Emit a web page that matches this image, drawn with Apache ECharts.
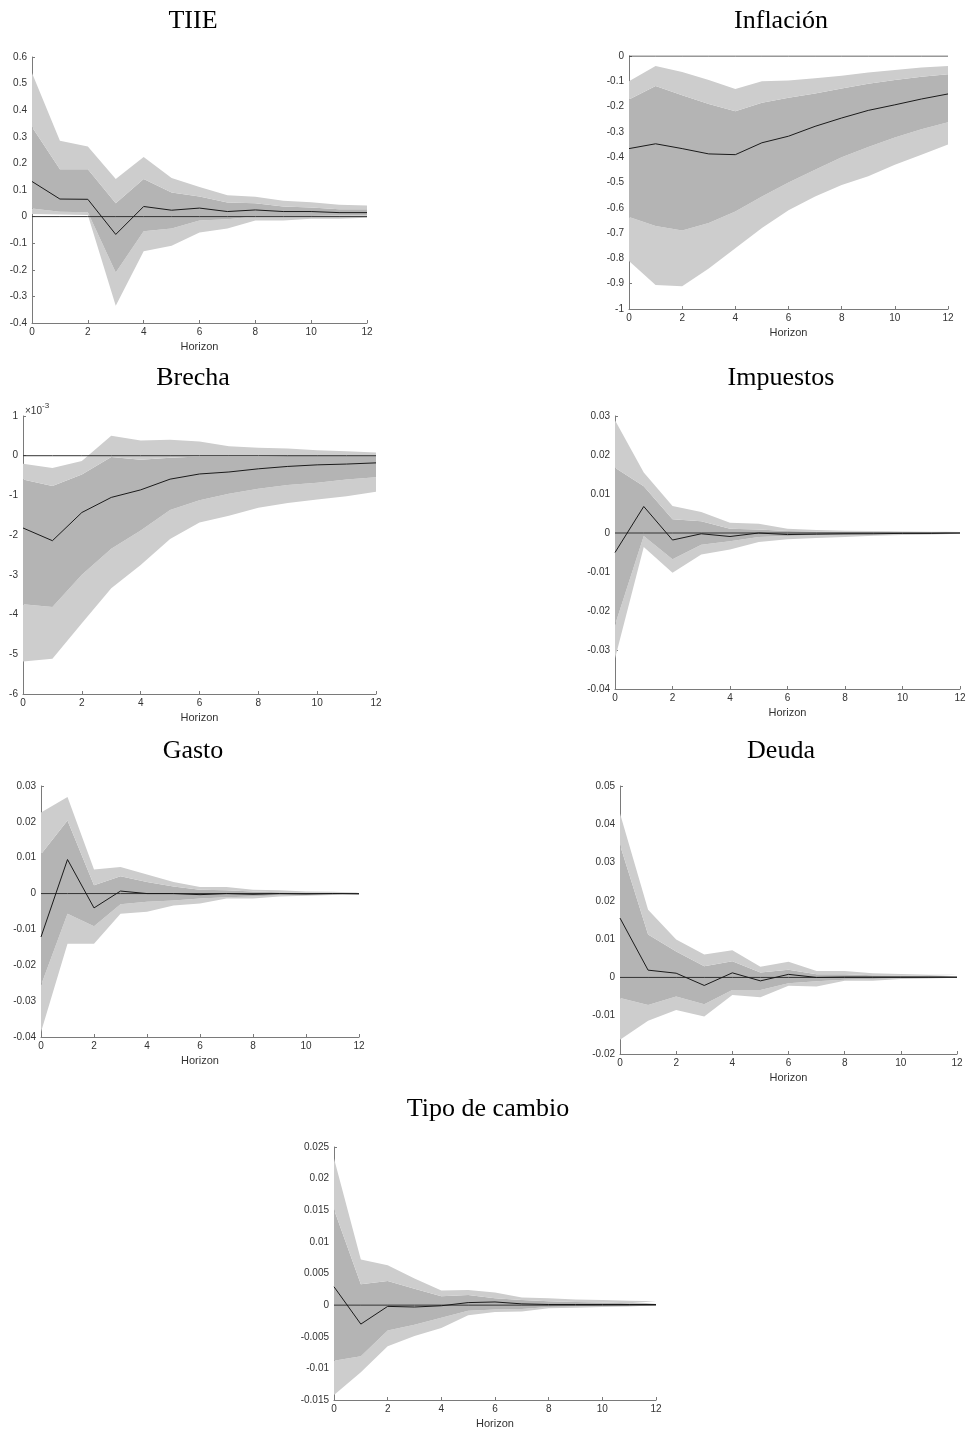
<!DOCTYPE html>
<html>
<head>
<meta charset="utf-8">
<script src="https://cdn.jsdelivr.net/npm/echarts@6/dist/echarts.min.js"></script>
<style>
html, body { margin: 0; padding: 0; background: #fff; }
#main { width: 969px; height: 1433px; }
</style>
</head>
<body>
<div id="main"></div>
<script>
var horizon = ['0', '1', '2', '3', '4', '5', '6', '7', '8', '9', '10', '11', '12'];

// TIIE
var tiieMed     = [0.132, 0.066, 0.065, -0.067, 0.038, 0.024, 0.032, 0.019, 0.025, 0.019, 0.019, 0.015, 0.015];
var tiieOuterHi = [0.54, 0.285, 0.264, 0.141, 0.224, 0.145, 0.111, 0.08, 0.075, 0.06, 0.054, 0.045, 0.042];
var tiieInnerHi = [0.337, 0.178, 0.178, 0.05, 0.141, 0.091, 0.076, 0.053, 0.05, 0.038, 0.034, 0.028, 0.028];
var tiieInnerLo = [0.03, 0.018, 0.016, -0.21, -0.055, -0.045, -0.015, -0.01, 0.0, 0.0, 0.002, 0.004, 0.005];
var tiieOuterLo = [0.01, 0.008, 0.006, -0.335, -0.13, -0.11, -0.06, -0.045, -0.015, -0.015, -0.008, -0.008, -0.004];

// Inflación
var inflMed     = [-0.366, -0.347, -0.366, -0.387, -0.39, -0.343, -0.317, -0.278, -0.245, -0.215, -0.193, -0.17, -0.15];
var inflOuterHi = [-0.1, -0.04, -0.063, -0.095, -0.13, -0.1, -0.097, -0.088, -0.078, -0.065, -0.055, -0.045, -0.04];
var inflInnerHi = [-0.172, -0.119, -0.155, -0.19, -0.218, -0.185, -0.165, -0.148, -0.128, -0.11, -0.095, -0.082, -0.072];
var inflInnerLo = [-0.636, -0.672, -0.69, -0.66, -0.615, -0.555, -0.5, -0.45, -0.4, -0.36, -0.322, -0.29, -0.262];
var inflOuterLo = [-0.81, -0.905, -0.91, -0.84, -0.76, -0.68, -0.61, -0.555, -0.51, -0.475, -0.43, -0.39, -0.35];

// Brecha
var brechaMed     = [-0.00182, -0.00214, -0.00143, -0.00105, -0.00086, -0.00059, -0.00046, -0.00041, -0.00033, -0.00027, -0.00023, -0.00021, -0.00018];
var brechaOuterHi = [-0.0002, -0.00031, -0.00013, 0.0005, 0.00038, 0.0004, 0.00036, 0.00024, 0.0002, 0.00018, 0.00014, 0.00011, 0.00008];
var brechaInnerHi = [-0.0006, -0.00076, -0.00047, -0.00003, -0.0001, -0.00005, -0.00002, -0.00002, -0.00002, -0.00001, -0.00001, -0.00001, -0.00001];
var brechaInnerLo = [-0.00374, -0.00381, -0.003, -0.00234, -0.00188, -0.00137, -0.00112, -0.00096, -0.00083, -0.00074, -0.00068, -0.0006, -0.00054];
var brechaOuterLo = [-0.00518, -0.00511, -0.00422, -0.00334, -0.00275, -0.0021, -0.00168, -0.00151, -0.00131, -0.00119, -0.0011, -0.00102, -0.00091];

// Impuestos
var impMed     = [-0.005, 0.0068, -0.0018, -0.0002, -0.0009, 0.0, -0.0004, -0.0003, -0.0002, -0.0002, -0.0001, -0.0001, 0.0];
var impOuterHi = [0.0289, 0.0155, 0.0069, 0.0054, 0.0026, 0.0024, 0.0011, 0.0008, 0.0006, 0.0005, 0.0004, 0.0003, 0.0003];
var impInnerHi = [0.0167, 0.012, 0.0035, 0.003, 0.0011, 0.0009, 0.0005, 0.0004, 0.0003, 0.0003, 0.0002, 0.0002, 0.0002];
var impInnerLo = [-0.0236, -0.0008, -0.0067, -0.003, -0.0021, -0.001, -0.0008, -0.0006, -0.0005, -0.0004, -0.0003, -0.0002, -0.0002];
var impOuterLo = [-0.0322, -0.0036, -0.0102, -0.0055, -0.0042, -0.0023, -0.0016, -0.0013, -0.001, -0.0007, -0.0005, -0.0004, -0.0003];

// Gasto
var gasMed     = [-0.0121, 0.0095, -0.004, 0.0007, 0.0, 0.0, -0.0003, 0.0, -0.0002, 0.0, -0.0001, 0.0, -0.0001];
var gasOuterHi = [0.0226, 0.0269, 0.0067, 0.0074, 0.0053, 0.0032, 0.0018, 0.0018, 0.0011, 0.0009, 0.0006, 0.0005, 0.0003];
var gasInnerHi = [0.011, 0.0204, 0.0023, 0.0048, 0.0032, 0.002, 0.0011, 0.0009, 0.0006, 0.0004, 0.0003, 0.0002, 0.0002];
var gasInnerLo = [-0.0256, -0.0056, -0.0091, -0.003, -0.0023, -0.0019, -0.0014, -0.001, -0.0008, -0.0005, -0.0004, -0.0003, -0.0002];
var gasOuterLo = [-0.0386, -0.014, -0.014, -0.0056, -0.0051, -0.0033, -0.0028, -0.0014, -0.0014, -0.0008, -0.0006, -0.0004, -0.0003];

// Deuda
var deuMed     = [0.0155, 0.0019, 0.0011, -0.0021, 0.0012, -0.0009, 0.0008, 0.0, 0.0001, 0.0001, 0.0001, 0.0001, 0.0001];
var deuOuterHi = [0.0428, 0.0177, 0.0099, 0.006, 0.0071, 0.0028, 0.0041, 0.0017, 0.0017, 0.0011, 0.0009, 0.0007, 0.0007];
var deuInnerHi = [0.0346, 0.0112, 0.0068, 0.0029, 0.0042, 0.0013, 0.002, 0.0008, 0.0008, 0.0006, 0.0005, 0.0004, 0.0004];
var deuInnerLo = [-0.0054, -0.0072, -0.005, -0.007, -0.0033, -0.0033, -0.0015, -0.001, -0.0006, -0.0004, -0.0002, -0.0001, -0.0001];
var deuOuterLo = [-0.0163, -0.0113, -0.0085, -0.0102, -0.0046, -0.0052, -0.0022, -0.0024, -0.0009, -0.0009, -0.0004, -0.0003, -0.0003];

// Tipo de cambio
var tcMed     = [0.0029, -0.003, -0.0002, -0.0003, -0.0001, 0.0004, 0.0005, 0.0002, 0.0001, 0.0001, 0.0001, 0.0001, 0.0001];
var tcOuterHi = [0.0232, 0.0072, 0.0063, 0.0042, 0.0023, 0.0024, 0.002, 0.0012, 0.0011, 0.0009, 0.0008, 0.0007, 0.0006];
var tcInnerHi = [0.0151, 0.0033, 0.0038, 0.0026, 0.0014, 0.0016, 0.0011, 0.0008, 0.0006, 0.0005, 0.0004, 0.0003, 0.0003];
var tcInnerLo = [-0.0088, -0.0081, -0.004, -0.0031, -0.002, -0.0009, -0.0007, -0.0006, -0.0003, -0.0002, -0.0001, 0.0, 0.0];
var tcOuterLo = [-0.0142, -0.0106, -0.0065, -0.0049, -0.0036, -0.0016, -0.0011, -0.001, -0.0005, -0.0004, -0.0003, -0.0002, -0.0002];

var titles = ['TIIE', 'Inflación', 'Brecha', 'Impuestos', 'Gasto', 'Deuda', 'Tipo de cambio'];
var yMin = [-0.4, -1, -0.006, -0.04, -0.04, -0.02, -0.015];
var yMax = [0.6, 0, 0.001, 0.03, 0.03, 0.05, 0.025];
var yStep = [0.1, 0.1, 0.001, 0.01, 0.01, 0.01, 0.005];

var panels = [
    { med: tiieMed, oh: tiieOuterHi, ih: tiieInnerHi, il: tiieInnerLo, ol: tiieOuterLo,
      grid: { left: 32, width: 335, top: 57, height: 266 }, title: [193, 8] },
    { med: inflMed, oh: inflOuterHi, ih: inflInnerHi, il: inflInnerLo, ol: inflOuterLo,
      grid: { left: 629, width: 319, top: 56, height: 253 }, title: [781, 8] },
    { med: brechaMed, oh: brechaOuterHi, ih: brechaInnerHi, il: brechaInnerLo, ol: brechaOuterLo,
      grid: { left: 23, width: 353, top: 416, height: 278 }, title: [193, 365], scale: 1000 },
    { med: impMed, oh: impOuterHi, ih: impInnerHi, il: impInnerLo, ol: impOuterLo,
      grid: { left: 615, width: 345, top: 416, height: 273 }, title: [781, 365] },
    { med: gasMed, oh: gasOuterHi, ih: gasInnerHi, il: gasInnerLo, ol: gasOuterLo,
      grid: { left: 41, width: 318, top: 786, height: 251 }, title: [193, 738] },
    { med: deuMed, oh: deuOuterHi, ih: deuInnerHi, il: deuInnerLo, ol: deuOuterLo,
      grid: { left: 620, width: 337, top: 786, height: 268 }, title: [781, 738] },
    { med: tcMed, oh: tcOuterHi, ih: tcInnerHi, il: tcInnerLo, ol: tcOuterLo,
      grid: { left: 334, width: 322, top: 1147, height: 253 }, title: [488, 1096] }
];

var dom = document.getElementById('main');
var myChart = echarts.init(dom);

function diff(a, b) {
    return a.map(function (v, i) { return v - b[i]; });
}
function fmt(v) {
    return String(parseFloat(v.toPrecision(6)));
}

var grids = [], xAxes = [], yAxes = [], series = [], graphics = [];

panels.forEach(function (p, k) {
    grids.push(p.grid);
    xAxes.push({
        gridIndex: k, type: 'category', data: horizon, boundaryGap: false,
        name: 'Horizon', nameLocation: 'middle', nameGap: 18,
        nameTextStyle: { fontFamily: 'Liberation Sans', fontSize: 11, color: '#333' },
        axisLine: { onZero: false, lineStyle: { color: '#7a7a7a' } },
        axisTick: { inside: true, length: 3, interval: 1, lineStyle: { color: '#7a7a7a' } },
        axisLabel: { fontFamily: 'Liberation Sans', fontSize: 10, color: '#333', margin: 4, interval: 1 },
        splitLine: { show: false }
    });
    var sc = p.scale || 1;
    yAxes.push({
        gridIndex: k, type: 'value', min: yMin[k], max: yMax[k], interval: yStep[k],
        axisLine: { show: true, onZero: false, lineStyle: { color: '#7a7a7a' } },
        axisTick: { show: true, inside: true, length: 3, lineStyle: { color: '#7a7a7a' } },
        axisLabel: {
            fontFamily: 'Liberation Sans', fontSize: 10, color: '#333', margin: 5,
            formatter: function (v) { return fmt(v * sc); }
        },
        splitLine: { show: false }
    });
    var st = 'band' + k;
    var base = { xAxisIndex: k, yAxisIndex: k, type: 'line', stack: st, stackStrategy: 'all',
                 symbol: 'none', silent: true, lineStyle: { opacity: 0, width: 0 } };
    series.push(Object.assign({}, base, { data: p.ol }));
    series.push(Object.assign({}, base, { data: diff(p.il, p.ol), areaStyle: { color: '#cdcdcd', opacity: 1 } }));
    series.push(Object.assign({}, base, { data: diff(p.ih, p.il), areaStyle: { color: '#b4b4b4', opacity: 1 } }));
    series.push(Object.assign({}, base, { data: diff(p.oh, p.ih), areaStyle: { color: '#cdcdcd', opacity: 1 } }));
    series.push({
        xAxisIndex: k, yAxisIndex: k, type: 'line', symbol: 'none', silent: true,
        data: horizon.map(function () { return 0; }),
        lineStyle: { color: '#333', width: 1 }
    });
    series.push({
        xAxisIndex: k, yAxisIndex: k, type: 'line', symbol: 'none', silent: true,
        data: p.med,
        lineStyle: { color: '#1a1a1a', width: 1 }
    });
    graphics.push({
        type: 'text', x: p.title[0], y: p.title[1],
        style: { text: titles[k], fontFamily: 'Liberation Serif', fontSize: 26, fill: '#000', align: 'center' }
    });
});

// exponent label for Brecha
graphics.push({
    type: 'text', x: 25, y: 400,
    style: {
        text: '{a|×10}{b|-3}',
        rich: {
            a: { fontFamily: 'Liberation Sans', fontSize: 10, fill: '#333', padding: [6, 0, 0, 0] },
            b: { fontFamily: 'Liberation Sans', fontSize: 8, fill: '#333', padding: [0, 0, 4, 0] }
        }
    }
});

option = {
    animation: false,
    backgroundColor: '#fff',
    grid: grids,
    xAxis: xAxes,
    yAxis: yAxes,
    series: series,
    graphic: graphics
};
if (option && typeof option === "object") {
    myChart.setOption(option, true);
}
</script>
</body>
</html>
